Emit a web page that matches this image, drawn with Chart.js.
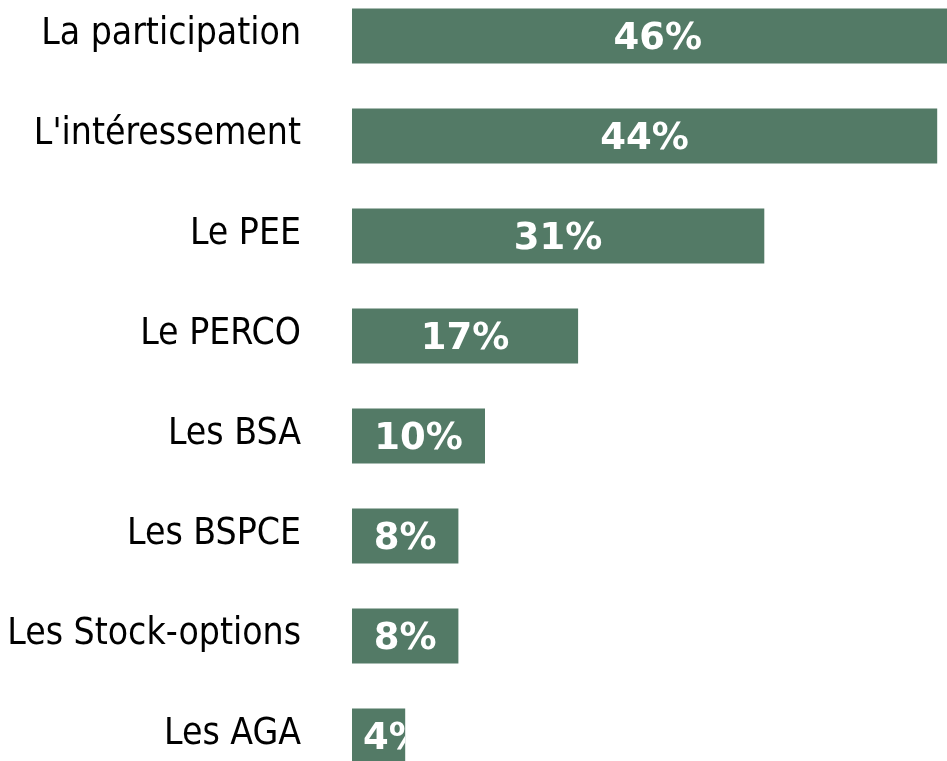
<!DOCTYPE html>
<html>
<head>
<meta charset="utf-8">
<script src="https://cdn.jsdelivr.net/npm/chart.js@4.4.1/dist/chart.umd.min.js"></script>
<style>
  html, body { margin: 0; padding: 0; background: #fff; overflow: hidden; width: 947px; height: 761px; }
  #wrap { position: absolute; left: 0; top: -14px; }
</style>
</head>
<body>
<div id="wrap"><canvas id="chart" width="1017" height="800"></canvas></div>
<script>
const categories = ['La participation', "L'intéressement", 'Le PEE', 'Le PERCO', 'Les BSA', 'Les BSPCE', 'Les Stock-options', 'Les AGA'];
const values = [46, 44, 31, 17, 10, 8, 8, 4];
const valueLabels = ['46%', '44%', '31%', '17%', '10%', '8%', '8%', '4%'];

const FONT = "'DejaVu Sans Condensed', 'DejaVu Sans', sans-serif";
const BOLD_FONT = "'DejaVu Sans', sans-serif";

// draw the % labels inside each bar, clipped to the bar
const barLabels = {
    id: 'barLabels',
    afterDatasetsDraw(chart) {
        const ctx = chart.ctx;
        const meta = chart.getDatasetMeta(0);
        meta.data.forEach((bar, i) => {
            const p = bar.getProps(['x', 'y', 'base', 'height'], true);
            const left = Math.min(p.base, p.x);
            const right = Math.max(p.base, p.x);
            ctx.save();
            ctx.beginPath();
            ctx.rect(left, p.y - p.height / 2, right - left, p.height);
            ctx.clip();
            ctx.fillStyle = '#ffffff';
            ctx.font = 'bold 37px ' + BOLD_FONT;
            ctx.textAlign = 'center';
            ctx.textBaseline = 'middle';
            const w = ctx.measureText(valueLabels[i]).width;
            // label never starts left of a small inset from the bar start
            const x = Math.max((left + right) / 2, left + 11 + w / 2);
            ctx.fillText(valueLabels[i], x, p.y + 3);
            ctx.restore();
        });
    }
};

new Chart(document.getElementById('chart').getContext('2d'), {
    type: 'bar',
    data: {
        labels: categories,
        datasets: [{
            data: values,
            backgroundColor: '#537a66',
            borderWidth: 0,
            categoryPercentage: 1,
            barPercentage: 0.55
        }]
    },
    options: {
        indexAxis: 'y',
        responsive: false,
        animation: false,
        layout: { padding: 0 },
        plugins: {
            legend: { display: false },
            tooltip: { enabled: false }
        },
        scales: {
            x: { display: false, min: 0, max: 50 },
            y: {
                afterFit: (s) => {
                    s.width = 352;
                    s.paddingTop = 0;
                    s.paddingBottom = 0;
                },
                grid: { display: false },
                border: { display: false },
                ticks: {
                    padding: 43,
                    labelOffset: -2,
                    color: '#000000',
                    font: { family: FONT, size: 37 }
                }
            }
        }
    },
    plugins: [barLabels]
});
</script>
</body>
</html>
